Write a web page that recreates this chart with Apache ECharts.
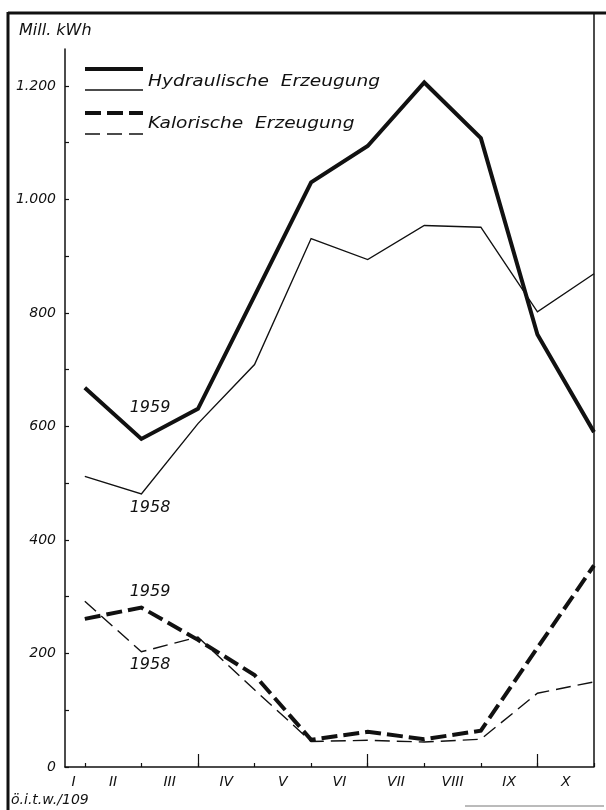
<!DOCTYPE html>
<html>
<head>
<meta charset="utf-8">
<script src="https://cdn.jsdelivr.net/npm/echarts@6/dist/echarts.min.js"></script>
<style>
html, body { margin: 0; padding: 0; background: #fff; }
#chart { width: 606px; height: 810px; }
</style>
</head>
<body>
<div id="chart"></div>
<script>
// Monate I..X
var months = ['I', 'II', 'III', 'IV', 'V', 'VI', 'VII', 'VIII', 'IX', 'X'];

// Mill. kWh
var hydro1959 = [668, 578, 631, 830, 1030, 1094, 1206, 1108, 762, 590];
var hydro1958 = [512, 481, 605, 709, 931, 894, 954, 951, 802, 869];
var kalor1959 = [261, 281, 224, 162, 48, 62, 49, 64, 210, 355];
var kalor1958 = [292, 203, 229, 136, 45, 47, 44, 49, 130, 150];

var yTicks = [0, 100, 200, 300, 400, 500, 600, 700, 800, 900, 1000, 1100, 1200];
var yLabels = [0, 200, 400, 600, 800, 1000, 1200];
var quarterTicks = [2, 5, 8];

var FONT = 'DejaVu Sans';
var INK = '#111';

function pairs(arr) {
    return arr.map((v, i) => [i, v]);
}

// Monatsnamen stehen zwischen den Punkten, "I" am Achsanfang
var monthTicks = months.map((m, i) => i);
var monthLabelPos = months.map((m, i) => Math.max(i - 0.5, -0.2));

function lineSeries(name, arr, width, dash) {
    return {
        name: name,
        type: 'line',
        data: pairs(arr),
        symbol: 'none',
        smooth: false,
        silent: true,
        z: width > 2 ? 4 : 3,
        lineStyle: { color: INK, width: width, type: dash || 'solid', cap: 'butt', join: 'miter' }
    };
}

function txt(x, y, s, size, align, sx) {
    return {
        type: 'text', x: x, y: y, z: 10,
        scaleX: sx || 1,
        style: {
            text: s, fill: INK, fontFamily: FONT, fontStyle: 'italic',
            fontSize: size, align: align || 'left', verticalAlign: 'middle'
        }
    };
}

function ln(x1, y1, x2, y2, w, dash, color) {
    return {
        type: 'line', z: 10,
        shape: { x1: x1, y1: y1, x2: x2, y2: y2 },
        style: { stroke: color || INK, lineWidth: w, lineDash: dash || null }
    };
}

var chart = echarts.init(document.getElementById('chart'));

var option = {
    animation: false,
    backgroundColor: '#fff',
    grid: { left: 65, right: 12, top: 49, bottom: 43 },
    xAxis: [{
        type: 'value',
        min: -0.35,
        max: 9,
        position: 'bottom',
        axisLine: { show: true, onZero: false, lineStyle: { color: INK, width: 1.5 } },
        axisTick: { show: true, inside: true, length: 4, customValues: monthTicks, lineStyle: { color: INK, width: 1.2 } },
        axisLabel: {
            show: true,
            customValues: monthLabelPos,
            formatter: v => months[Math.round(v + 0.5)] || '',
            color: INK, fontFamily: FONT, fontStyle: 'italic', fontSize: 14, margin: 8
        },
        splitLine: { show: false }
    }, {
        type: 'value',
        min: -0.35,
        max: 9,
        position: 'bottom',
        axisLine: { show: false, onZero: false },
        axisTick: { show: true, inside: true, length: 13, customValues: quarterTicks, lineStyle: { color: INK, width: 1.2 } },
        axisLabel: { show: false },
        splitLine: { show: false }
    }],
    yAxis: {
        type: 'value',
        min: 0,
        max: 1265,
        axisLine: { show: true, onZero: false, lineStyle: { color: INK, width: 1.5 } },
        axisTick: { show: true, inside: true, length: 4, customValues: yTicks, lineStyle: { color: INK, width: 1.2 } },
        axisLabel: {
            customValues: yLabels,
            formatter: v => v >= 1000 ? Math.floor(v / 1000) + '.' + String(v % 1000).padStart(3, '0') : String(v),
            color: INK, fontFamily: FONT, fontStyle: 'italic', fontSize: 14, margin: 9
        },
        splitLine: { show: false }
    },
    series: [
        lineSeries('Hydraulische Erzeugung 1959', hydro1959, 4),
        lineSeries('Hydraulische Erzeugung 1958', hydro1958, 1.4),
        lineSeries('Kalorische Erzeugung 1959', kalor1959, 4, [16, 6]),
        lineSeries('Kalorische Erzeugung 1958', kalor1958, 1.4, [15, 7])
    ],
    graphic: [
        // Rahmen
        ln(8, 13, 606, 13, 3),
        ln(8, 12, 8, 810, 3),
        ln(594, 13, 594, 767, 1.5),
        ln(465, 806, 604, 806, 1, null, '#777'),
        // Einheit
        txt(19, 31, 'Mill. kWh', 16),
        // Legende
        ln(85, 69, 143, 69, 4),
        ln(85, 90, 143, 90, 1.4),
        ln(85, 113, 143, 113, 4, [16, 6]),
        ln(85, 134, 143, 134, 1.4, [15, 7]),
        txt(148, 82, 'Hydraulische  Erzeugung', 16, 'left', 1.16),
        txt(148, 124, 'Kalorische  Erzeugung', 16, 'left', 1.16),
        // Jahreszahlen
        txt(150, 408, '1959', 16, 'center'),
        txt(150, 508, '1958', 16, 'center'),
        txt(150, 592, '1959', 16, 'center'),
        txt(150, 665, '1958', 16, 'center'),
        // Quelle
        txt(11, 800, 'ö.i.t.w./109', 14)
    ]
};

chart.setOption(option);
</script>
</body>
</html>
